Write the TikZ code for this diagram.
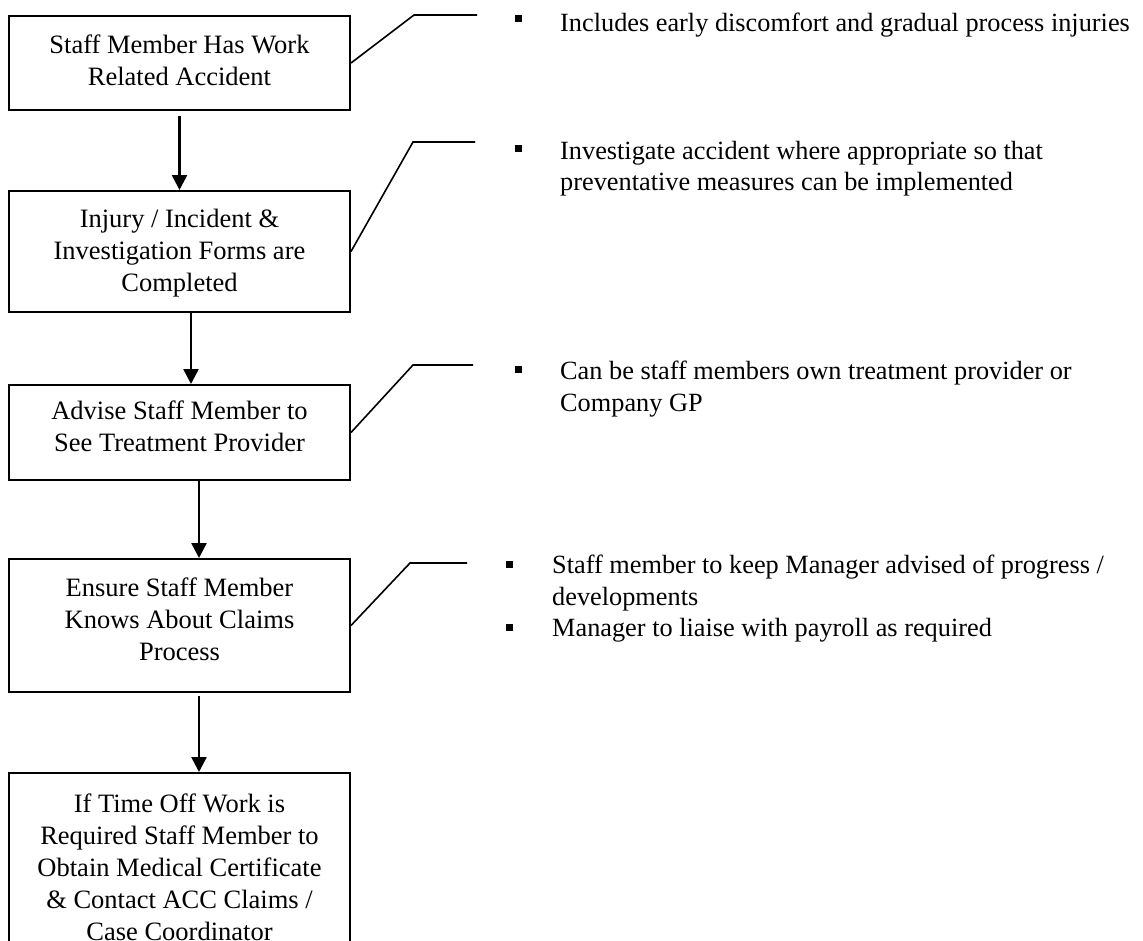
\documentclass[tikz,border=0pt]{standalone}
\usepackage{fontspec}
\setmainfont{Liberation Serif}
\usetikzlibrary{arrows.meta}

\begin{document}
\begin{tikzpicture}[x=1pt,y=-1pt,
  box/.style={draw, line width=2pt, minimum width=341pt, inner sep=0pt},
  boxtext/.style={anchor=north, align=center, inner sep=0pt,
    font=\fontsize{26.5pt}{32pt}\selectfont},
  note/.style={anchor=north west, align=left, inner sep=0pt,
    font=\fontsize{26.3pt}{31.5pt}\selectfont},
  flow/.style={line width=2.6pt, -{Triangle[width=15pt,length=15pt]}},
  callout/.style={line width=1.6pt},
  bulletsq/.style={fill=black, minimum size=7pt, inner sep=0pt}
]
% page
\fill[white] (0,0) rectangle (1143,940);
\clip (0,0) rectangle (1143,940);

% process boxes
\node[box, minimum height=94pt]  (b1) at (179.5,63)    {};
\node[box, minimum height=121pt] (b2) at (179.5,251.5) {};
\node[box, minimum height=95pt]  (b3) at (179.5,432.5) {};
\node[box, minimum height=133pt] (b4) at (179.5,625.5) {};
\node[box, minimum height=187pt] (b5) at (179.5,866.5) {};

% box captions
\node[boxtext] (t1) at ([yshift=-20pt]b1.north) {Staff Member Has Work\\Related Accident};
\node[boxtext] (t2) at ([yshift=-19pt]b2.north) {Injury / Incident \&\\Investigation Forms are\\Completed};
\node[boxtext] (t3) at ([yshift=-17pt]b3.north) {Advise Staff Member to\\See Treatment Provider};
\node[boxtext] (t4) at ([yshift=-20pt]b4.north) {Ensure Staff Member\\Knows About Claims\\Process};
\node[boxtext] (t5) at ([yshift=-22pt]b5.north) {If Time Off Work is\\Required Staff Member to\\Obtain Medical Certificate\\\& Contact ACC Claims /\\Case Coordinator};

% flow arrows
\draw[flow] ([yshift=-5pt]b1.south) -- (b2.north);
\draw[flow] ([xshift=11.5pt]b2.south) -- ([xshift=11.5pt]b3.north);
\draw[flow] ([xshift=19.5pt]b3.south) -- ([xshift=19.5pt]b4.north);
\draw[flow] ([xshift=19.5pt,yshift=-3pt]b4.south) -- ([xshift=19.5pt]b5.north);

% callout leaders
\coordinate (k1) at (414,15);  \coordinate (e1) at (477,15);
\coordinate (k2) at (413,142); \coordinate (e2) at (475,142);
\coordinate (k3) at (413,365); \coordinate (e3) at (473,365);
\coordinate (k4) at (410,563); \coordinate (e4) at (467,563);
\draw[callout] (b1.east) -- (k1) -- (e1);
\draw[callout] (b2.east) -- (k2) -- (e2);
\draw[callout] (b3.east) -- (k3) -- (e3);
\draw[callout] (b4.east) -- (k4) -- (e4);

% bulleted notes
\node[bulletsq] (q1) at (518,18)  {};
\node[note] (n1) at (560,13) {Includes early discomfort and gradual process injuries};
\node[bulletsq] (q2) at (518,148) {};
\node[note] (n2) at (560,141) {Investigate accident where appropriate so that\\preventative measures can be implemented};
\node[bulletsq] (q3) at (518,369) {};
\node[note] (n3) at (560,361) {Can be staff members own treatment provider or\\Company GP};
\node[bulletsq] (q4) at (509,564) {};
\node[note] (n4) at (552,555) {Staff member to keep Manager advised of progress /\\developments};
\node[bulletsq] (q5) at (509,627) {};
\node[note] (n5) at (552,618) {Manager to liaise with payroll as required};
\end{tikzpicture}
\end{document}
